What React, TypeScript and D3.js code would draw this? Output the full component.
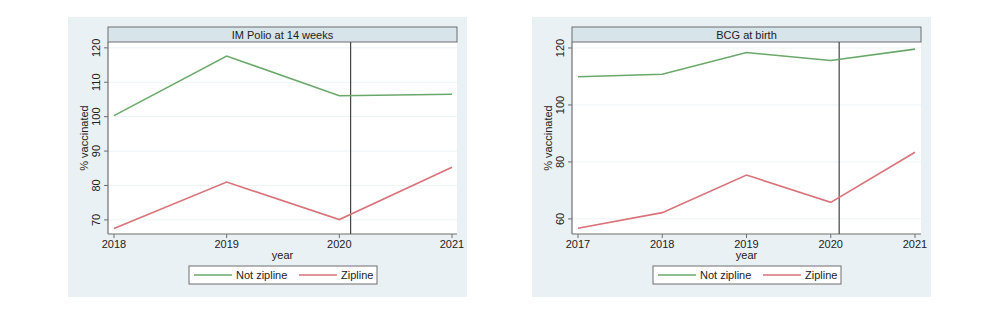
import React from "react";
import * as d3 from "d3";

const polioTitle = "IM Polio at 14 weeks";
const polioYears = [2018, 2019, 2020, 2021];
const polioNotZipline = [100.3, 117.6, 106.1, 106.5];
const polioZipline = [67.5, 81.0, 70.1, 85.3];
const polioYTicks = [70, 80, 90, 100, 110, 120];

const bcgTitle = "BCG at birth";
const bcgYears = [2017, 2018, 2019, 2020, 2021];
const bcgNotZipline = [109.9, 110.8, 118.4, 115.6, 119.6];
const bcgZipline = [56.7, 62.2, 75.4, 65.8, 83.4];
const bcgYTicks = [60, 80, 100, 120];

const interventionYear = 2020.1;
const seriesNames = ["Not zipline", "Zipline"];
const seriesColors = ["#6aa86a", "#d9737a"];

const FONT = "'Liberation Sans', Arial, sans-serif";

type PanelProps = {
  ox: number;
  title: string;
  years: number[];
  a: number[];
  b: number[];
  yTicks: number[];
  yDomain: [number, number];
  plotLeft: number;
  plotRight: number;
  xFirst: number;
  xLast: number;
  legendX: number;
};

function Panel(p: PanelProps) {
  const top = 42;
  const bottom = 234;
  const x = d3
    .scaleLinear()
    .domain([p.years[0], p.years[p.years.length - 1]])
    .range([p.xFirst, p.xLast]);
  const y = d3.scaleLinear().domain(p.yDomain).range([bottom, top]);
  const line = d3
    .line<number>()
    .x((_, i) => x(p.years[i]))
    .y((d) => y(d));
  const bgLeft = p.plotLeft - 40;
  const bgRight = p.plotRight + 10;
  const legendW = 188;
  return (
    <g>
      <rect x={bgLeft} y={17} width={bgRight - bgLeft} height={280} fill="#eaf1f4" />
      <rect x={p.plotLeft} y={top} width={p.plotRight - p.plotLeft} height={bottom - top} fill="#ffffff" />
      {p.yTicks.map((t) => (
        <line key={"g" + t} x1={p.plotLeft} x2={p.plotRight} y1={y(t)} y2={y(t)} stroke="#eef3f6" strokeWidth={1} />
      ))}
      {/* title strip */}
      <rect x={p.plotLeft} y={27} width={p.plotRight - p.plotLeft} height={15} fill="#d7e4ea" stroke="#6e6e6e" strokeWidth={1} />
      <text x={(p.plotLeft + p.plotRight) / 2} y={38.5} textAnchor="middle" fontFamily={FONT} fontSize={11} fill="#222">
        {p.title}
      </text>
      {/* axes */}
      <line x1={p.plotLeft} x2={p.plotLeft} y1={top} y2={bottom} stroke="#6e6e6e" strokeWidth={1.2} />
      <line x1={p.plotLeft} x2={p.plotRight} y1={bottom} y2={bottom} stroke="#6e6e6e" strokeWidth={1.2} />
      {p.yTicks.map((t) => (
        <g key={"y" + t}>
          <line x1={p.plotLeft - 4} x2={p.plotLeft} y1={y(t)} y2={y(t)} stroke="#6e6e6e" />
          <text
            transform={`translate(${p.plotLeft - 8},${y(t)}) rotate(-90)`}
            textAnchor="middle"
            fontFamily={FONT}
            fontSize={11}
            fill="#222"
          >
            {t}
          </text>
        </g>
      ))}
      {p.years.map((yr) => (
        <g key={"x" + yr}>
          <line x1={x(yr)} x2={x(yr)} y1={bottom} y2={bottom + 4} stroke="#6e6e6e" />
          <text x={x(yr)} y={bottom + 14} textAnchor="middle" fontFamily={FONT} fontSize={11} fill="#222">
            {yr}
          </text>
        </g>
      ))}
      <text x={(p.plotLeft + p.plotRight) / 2} y={bottom + 25} textAnchor="middle" fontFamily={FONT} fontSize={11} fill="#222">
        year
      </text>
      <text
        transform={`translate(${p.plotLeft - 20},${(top + bottom) / 2}) rotate(-90)`}
        textAnchor="middle"
        fontFamily={FONT}
        fontSize={11}
        fill="#222"
      >
        % vaccinated
      </text>
      {/* vertical line */}
      <line x1={x(interventionYear)} x2={x(interventionYear)} y1={top} y2={bottom} stroke="#444" strokeWidth={1.2} />
      {/* series */}
      <path d={line(p.a) || ""} fill="none" stroke={seriesColors[0]} strokeWidth={1.6} />
      <path d={line(p.b) || ""} fill="none" stroke={seriesColors[1]} strokeWidth={1.6} />
      {/* legend */}
      <rect x={p.legendX} y={266} width={legendW} height={18} fill="#ffffff" stroke="#6e6e6e" strokeWidth={1} />
      {seriesNames.map((n, i) => {
        const lx = p.legendX + 5 + i * 105;
        return (
          <g key={n}>
            <line x1={lx} x2={lx + 38} y1={275} y2={275} stroke={seriesColors[i]} strokeWidth={1.6} />
            <text x={lx + 42} y={279} fontFamily={FONT} fontSize={11} fill="#222">
              {n}
            </text>
          </g>
        );
      })}
    </g>
  );
}

export default function App() {
  return (
    <svg width={1000} height={321} style={{ position: "absolute", left: 0, top: 0 }}>
      <rect width={1000} height={321} fill="#ffffff" />
      <Panel
        ox={0}
        title={polioTitle}
        years={polioYears}
        a={polioNotZipline}
        b={polioZipline}
        yTicks={polioYTicks}
        yDomain={[65.9, 121.7]}
        plotLeft={108}
        plotRight={457}
        xFirst={114}
        xLast={452}
        legendX={189}
      />
      <Panel
        ox={0}
        title={bcgTitle}
        years={bcgYears}
        a={bcgNotZipline}
        b={bcgZipline}
        yTicks={bcgYTicks}
        yDomain={[54.7, 122.1]}
        plotLeft={572}
        plotRight={921}
        xFirst={578}
        xLast={915}
        legendX={653}
      />
    </svg>
  );
}
